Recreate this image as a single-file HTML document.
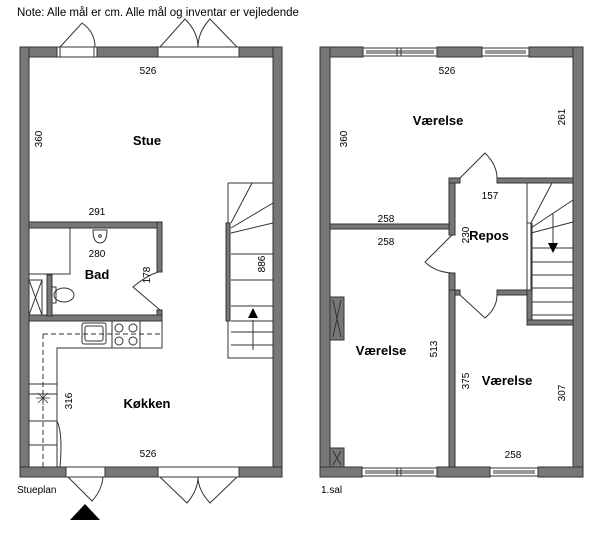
<!DOCTYPE html>
<html><head><meta charset="utf-8"><style>
body{margin:0;background:#fff}
svg{display:block}
text{font-family:"Liberation Sans",sans-serif;fill:#000}
</style></head><body>
<svg width="600" height="534" viewBox="0 0 600 534" xmlns="http://www.w3.org/2000/svg">
<text x="17" y="16" font-size="11.5">Note: Alle mål er cm. Alle mål og inventar er vejledende</text>
<g fill="#777" stroke="#333" stroke-width="1">
<!-- LEFT PLAN outer walls -->
<rect x="20" y="47" width="37" height="10"/>
<rect x="97" y="47" width="61" height="10"/>
<rect x="239" y="47" width="43" height="10"/>
<rect x="20" y="47" width="9" height="430"/>
<rect x="273" y="47" width="9" height="430"/>
<rect x="20" y="467" width="46" height="10"/>
<rect x="105" y="467" width="53" height="10"/>
<rect x="239" y="467" width="43" height="10"/>
<!-- bad walls -->
<rect x="29" y="222" width="133" height="6"/>
<rect x="157" y="222" width="5" height="50"/>
<rect x="157" y="310" width="5" height="6"/>
<rect x="29" y="315" width="133" height="6"/>
<rect x="47" y="275" width="5" height="41"/>
<!-- stair rail left -->
<rect x="226" y="223" width="4" height="98"/>
<!-- RIGHT PLAN -->
<rect x="320" y="47" width="43" height="10"/>
<rect x="437" y="47" width="45" height="10"/>
<rect x="529" y="47" width="54" height="10"/>
<rect x="320" y="47" width="10" height="430"/>
<rect x="573" y="47" width="10" height="430"/>
<rect x="320" y="467" width="42" height="10"/>
<rect x="437" y="467" width="53" height="10"/>
<rect x="538" y="467" width="45" height="10"/>
<rect x="330" y="224" width="122" height="5"/>
<rect x="449" y="178" width="6" height="57"/>
<rect x="449" y="273" width="6" height="22"/>
<rect x="449" y="178" width="11" height="5"/>
<rect x="497" y="178" width="76" height="5"/>
<rect x="449" y="290" width="11" height="5"/>
<rect x="497" y="290" width="30" height="5"/>
<rect x="449" y="290" width="6" height="177"/>
<rect x="527" y="290" width="5" height="35"/>
<rect x="527" y="320" width="46" height="5"/>
<rect x="330" y="297" width="14" height="43"/>
<rect x="330" y="448" width="14" height="19"/>
</g>
<g fill="none" stroke="#333" stroke-width="1">
<!-- left top door/window frames -->
<rect x="57" y="47" width="40" height="10" fill="#fff"/>
<line x1="60" y1="47" x2="60" y2="57"/><line x1="94" y1="47" x2="94" y2="57"/>
<path d="M60 47 L82 23 Q95 32 95 47"/>
<rect x="158" y="47" width="81" height="10" fill="#fff"/>
<path d="M160 47 L185 19 Q198 32 198 47 Q198 32 210 19 L237 47"/>
<!-- left bottom -->
<rect x="66" y="467" width="39" height="10" fill="#fff"/>
<path d="M68 477 L92 501 Q102 490 103 477"/>
<rect x="158" y="467" width="81" height="10" fill="#fff"/>
<path d="M160 477 L187 503 Q198 490 198 477 Q198 490 210 503 L237 477"/>
<!-- closet -->
<rect x="29" y="228" width="41" height="46"/>
<rect x="29" y="280" width="13" height="35"/>
<path d="M29 280 L42 315 M42 280 L29 315"/>
<!-- sink bad -->
<path d="M93 230 Q93 243 100 243 Q107 243 107 230 Z"/>
<circle cx="100" cy="236" r="1.3"/>
<!-- toilet -->
<rect x="52" y="287" width="4" height="16"/>
<ellipse cx="64" cy="295" rx="10" ry="7"/>
<!-- bad door -->
<path d="M160 310 L133 287 Q146 276 158 272"/>
<!-- kitchen counters -->
<path d="M29 321 H162 V348 H57 V467"/>
<path d="M29 394 H57 M29 421 H57 M29 445 H57 M29 384 H57"/>
<path d="M43 467 V348 H43 M43 334 H162" stroke-dasharray="5,3"/>
<path d="M43 334 V380" stroke-dasharray="5,3"/>
<rect x="82" y="323" width="24" height="21" rx="2"/>
<rect x="85" y="326" width="18" height="15" rx="2"/>
<line x1="112" y1="321" x2="112" y2="348"/><line x1="140" y1="321" x2="140" y2="348"/>
<circle cx="119" cy="328" r="4"/><circle cx="133" cy="328" r="4"/>
<circle cx="119" cy="341" r="4"/><circle cx="133" cy="341" r="4"/>
<path d="M36 398 H50 M43 391 V405 M38 393 L48 403 M48 393 L38 403" stroke-width="0.8"/>
<path d="M57 421 Q63 433 60 467"/>
<!-- left stairs -->
<path d="M228 183 H273 M228 183 V223 M228 321 V358 H273"/>
<path d="M231 223 L252 183 M231 228 L273 203 M231 233 L273 223 M231 254 H273 M231 280 H273 M231 306 H273 M231 321 H273 M231 332 H273 M231 345 H273"/>
<path d="M253 320 V350"/>
<!-- right windows -->
<rect x="363" y="48" width="74" height="8" fill="#fff"/><path d="M366 51 H434 M366 53 H434 M397 48 V56 M401 48 V56"/>
<rect x="482" y="48" width="47" height="8" fill="#fff"/><path d="M485 51 H526 M485 53 H526"/>
<rect x="362" y="468" width="75" height="8" fill="#fff"/><path d="M365 471 H434 M365 473 H434 M397 468 V476 M401 468 V476"/>
<rect x="490" y="468" width="48" height="8" fill="#fff"/><path d="M493 471 H535 M493 473 H535"/>
<!-- right doors -->
<path d="M460 178 L485 153 Q497 165 497 178"/>
<path d="M460 295 L485 318 Q497 308 497 295"/>
<path d="M452 235 L425 262 Q435 272 452 273"/>
<path d="M333 300 L341 337 M341 300 L333 337 M333 451 L341 465 M341 451 L333 465"/>
<!-- right stairs -->
<path d="M527 183 V223 M532 223 V290"/>
<rect x="527" y="223" width="4" height="67" fill="#fff"/>
<path d="M531 223 L552 183 M531 228 L573 200 M531 233 L573 222 M531 248 H573 M531 262 H573 M531 275 H573 M531 288 H573 M532 302 H573 M532 315 H573"/>
<path d="M553 213 V245"/>
</g>
<polygon points="248,318 258,318 253,308" fill="#000"/>
<polygon points="548,243 558,243 553,253" fill="#000"/>
<polygon points="70,520 100,520 85,504" fill="#000"/>
<g font-size="10" text-anchor="middle">
<text x="148" y="74">526</text>
<text x="148" y="457">526</text>
<text x="97" y="215">291</text>
<text x="97" y="257">280</text>
<text x="447" y="74">526</text>
<text x="386" y="222">258</text>
<text x="386" y="245">258</text>
<text x="490" y="199">157</text>
<text x="513" y="458">258</text>
<text transform="translate(42,139) rotate(-90)">360</text>
<text transform="translate(150,275) rotate(-90)">178</text>
<text transform="translate(265,264) rotate(-90)">886</text>
<text transform="translate(72,401) rotate(-90)">316</text>
<text transform="translate(347,139) rotate(-90)">360</text>
<text transform="translate(565,117) rotate(-90)">261</text>
<text transform="translate(469,235) rotate(-90)">230</text>
<text transform="translate(437,349) rotate(-90)">513</text>
<text transform="translate(469,381) rotate(-90)">375</text>
<text transform="translate(565,393) rotate(-90)">307</text>
</g>
<g font-size="13" font-weight="bold" text-anchor="middle">
<text x="147" y="145">Stue</text>
<text x="97" y="279">Bad</text>
<text x="147" y="408">Køkken</text>
<text x="438" y="125">Værelse</text>
<text x="489" y="240">Repos</text>
<text x="381" y="355">Værelse</text>
<text x="507" y="385">Værelse</text>
</g>
<text x="17" y="493" font-size="10">Stueplan</text>
<text x="321" y="493" font-size="10">1.sal</text>
</svg>
</body></html>
